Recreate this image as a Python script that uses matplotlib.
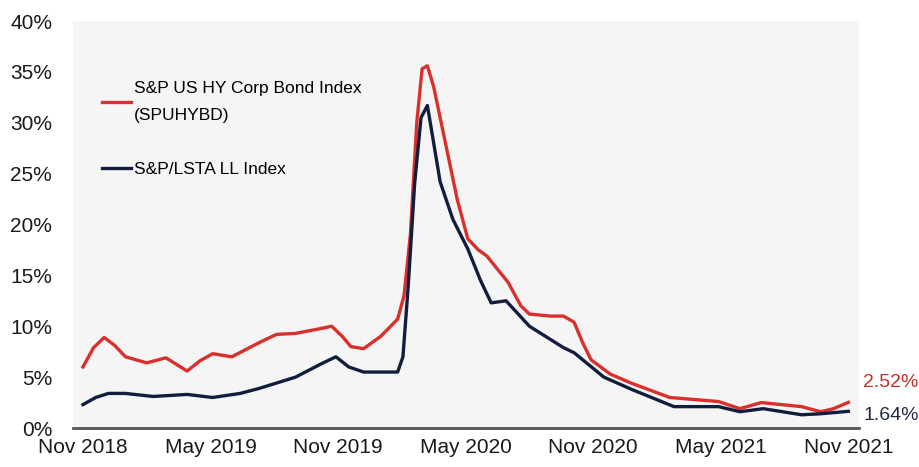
import matplotlib.pyplot as plt

# months since Nov 2018, read at irregular steps so the spike keeps its shape
hy_months = [0.0, 0.5, 1.0, 1.5, 2.0, 3.0, 3.9, 4.9, 5.5, 6.1, 7.0, 8.3, 9.1, 10.0, 11.0, 11.7,
             12.2, 12.6, 13.2, 14.0, 14.8, 15.1, 15.4, 15.7, 15.95, 16.2, 16.5, 17.1, 17.6,
             18.1, 18.6, 19.0, 20.0, 20.6, 21.0, 22.0, 22.6, 23.1, 23.5, 23.9, 24.8, 25.8,
             27.6, 29.9, 30.9, 31.9, 33.8, 34.7, 35.3, 36.0]
hy = [6.0, 7.9, 8.9, 8.1, 7.0, 6.4, 6.9, 5.6, 6.6, 7.3, 7.0, 8.4, 9.2, 9.3, 9.7, 10.0,
      9.0, 8.0, 7.8, 9.0, 10.7, 13.0, 19.0, 30.0, 35.3, 35.6, 33.5, 27.5, 22.5,
      18.6, 17.5, 16.9, 14.3, 12.0, 11.2, 11.0, 11.0, 10.4, 8.4, 6.7, 5.3, 4.4,
      3.0, 2.6, 1.9, 2.5, 2.1, 1.6, 1.9, 2.52]

ll_months = [0.0, 0.6, 1.2, 2.0, 3.3, 4.9, 6.1, 7.4, 8.3, 10.0, 11.2, 11.9, 12.5, 13.2,
             14.8, 15.05, 15.3, 15.6, 15.9, 16.2, 16.8, 17.4, 18.1, 18.7, 19.2, 19.9, 21.0,
             22.6, 23.1, 24.5, 25.8, 27.8, 29.9, 30.9, 32.0, 33.8, 34.7, 36.0]
ll = [2.3, 3.0, 3.4, 3.4, 3.1, 3.3, 3.0, 3.4, 3.9, 5.0, 6.3, 7.0, 6.0, 5.5,
      5.5, 7.0, 14.0, 24.0, 30.5, 31.7, 24.2, 20.5, 17.6, 14.5, 12.3, 12.5, 10.0,
      7.9, 7.4, 5.0, 3.8, 2.1, 2.1, 1.6, 1.9, 1.3, 1.4, 1.64]

tick_months = [0, 6, 12, 18, 24, 30, 36]
tick_labels = ['Nov 2018', 'May 2019', 'Nov 2019', 'May 2020', 'Nov 2020', 'May 2021', 'Nov 2021']

RED = '#d9302c'
NAVY = '#111d3c'

plt.rcParams['font.family'] = ['Liberation Sans', 'DejaVu Sans']

fig = plt.figure(figsize=(9.19, 4.67), dpi=100)
ax = fig.add_axes([0.0794, 0.0835, 0.8553, 0.8715])
ax.set_facecolor('#f5f5f5')

ax.plot(hy_months, hy, color=RED, lw=2.4, solid_joinstyle='round',
        label='S&P US HY Corp Bond Index\n(SPUHYBD)')
ax.plot(ll_months, ll, color=NAVY, lw=2.4, solid_joinstyle='round',
        label='S&P/LSTA LL Index')

ax.set_xlim(-0.47, 36.5)
ax.set_ylim(0, 40)
ax.set_yticks(range(0, 41, 5))
ax.set_yticklabels([f'{v}%' for v in range(0, 41, 5)])
ax.set_xticks(tick_months)
ax.set_xticklabels(tick_labels)
ax.tick_params(axis='both', length=0, labelsize=15, colors='#1a1a1a')
ax.tick_params(axis='y', pad=15)
ax.tick_params(axis='x', pad=7)

for s in ['top', 'right', 'left']:
    ax.spines[s].set_visible(False)
ax.spines['bottom'].set_color('#555555')
ax.spines['bottom'].set_linewidth(2)

# last values next to the line ends
ax.annotate(f'{hy[-1]:.2f}%', xy=(1, hy[-1]), xycoords=('axes fraction', 'data'),
            xytext=(3, 14), textcoords='offset points', color='#c0302b',
            fontsize=14, va='center')
ax.annotate(f'{ll[-1]:.2f}%', xy=(1, ll[-1]), xycoords=('axes fraction', 'data'),
            xytext=(3, -3), textcoords='offset points', color='#1f2a4a',
            fontsize=14, va='center')

leg = ax.legend(loc='upper left', bbox_to_anchor=(0.037, 0.852), frameon=False,
                borderpad=0, borderaxespad=0,
                handlelength=1.65, handletextpad=0.2, labelspacing=2.2,
                prop={'size': 12.5})
leg.get_texts()[0].set_linespacing(2.0)

fig.savefig('out.png', dpi=100)
